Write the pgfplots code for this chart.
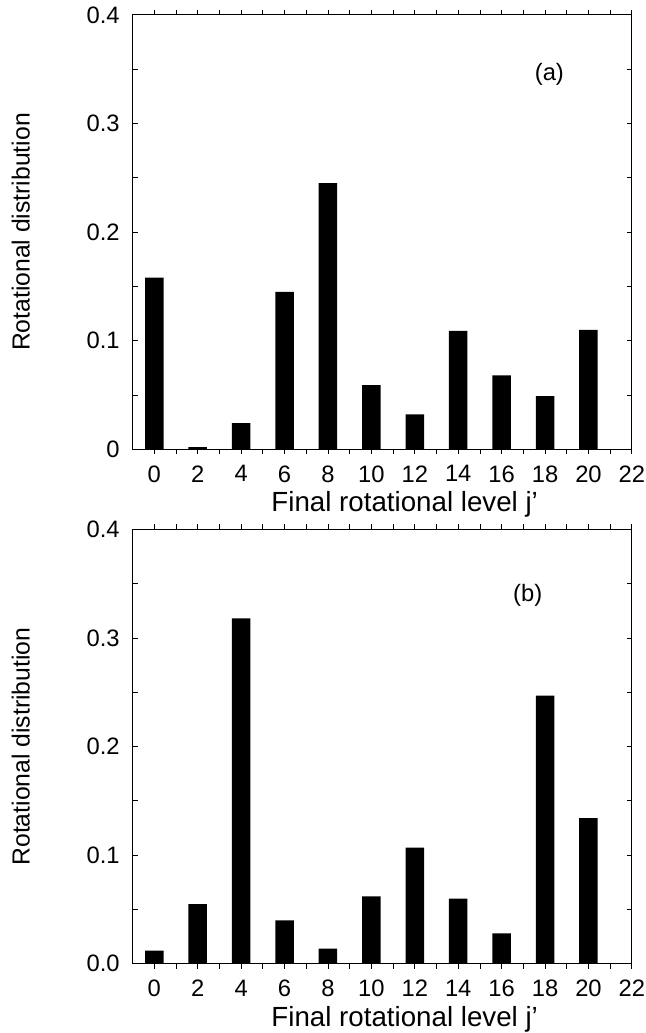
\documentclass[border=0pt]{standalone}
\usepackage{fontspec}
\setmainfont{Liberation Sans}
\usepackage{pgfplots}
\pgfplotsset{compat=1.18}

% shared look of the two panels
\pgfplotsset{
  rotpanel/.style={
    scale only axis, width=252.3pt, height=219.5pt,
    xmin=-1, xmax=22, ymin=0, ymax=0.4,
    xtick={0,2,...,22}, minor x tick num=1,
    ytick={0,0.1,0.2,0.3,0.4}, minor y tick num=1,
    tick align=inside, major tick length=2.5pt, minor tick length=2.5pt,
    tick style={black, line width=0.4pt},
    axis line style={line width=0.5pt},
    ybar, bar width=0.85, bar shift=0pt,
    ticklabel style={font=\fontsize{12}{14}\selectfont},
    label style={font=\fontsize{12.5}{15}\selectfont},
    /pgf/number format/assume math mode=true,
    xticklabel style={inner sep=1pt, yshift=-4.5pt},
    yticklabel style={xshift=-3pt},
    xlabel={Final rotational level j’},
    xlabel style={at={(axis description cs:0.545,0)}, anchor=center, inner sep=0pt,
      yshift=-28pt, font=\fontsize{14}{16}\selectfont},
    ylabel={Rotational distribution},
    ylabel style={at={(axis description cs:-0.224,0.5)}, anchor=center},
  }
}

\begin{document}
\begin{tikzpicture}
% page frame with the reference's margins
\path[use as bounding box] (-67pt,-295pt) rectangle (259pt,227pt);
\begin{axis}[rotpanel]
\addplot[fill=black, draw=none] coordinates {
  (0,0.158) (2,0.002) (4,0.024) (6,0.145) (8,0.245) (10,0.059)
  (12,0.032) (14,0.109) (16,0.068) (18,0.049) (20,0.110)};
\node[font=\fontsize{12}{14}\selectfont] at (axis cs:18.2,0.345) {(a)};
\end{axis}

\begin{axis}[rotpanel, at={(0,-260pt)},
  yticklabel style={/pgf/number format/.cd, fixed, fixed zerofill, precision=1}]
\addplot[fill=black, draw=none] coordinates {
  (0,0.012) (2,0.055) (4,0.318) (6,0.040) (8,0.014) (10,0.062)
  (12,0.107) (14,0.060) (16,0.028) (18,0.247) (20,0.134)};
\node[font=\fontsize{12}{14}\selectfont] at (axis cs:17.2,0.339) {(b)};
\end{axis}
\end{tikzpicture}
\end{document}
